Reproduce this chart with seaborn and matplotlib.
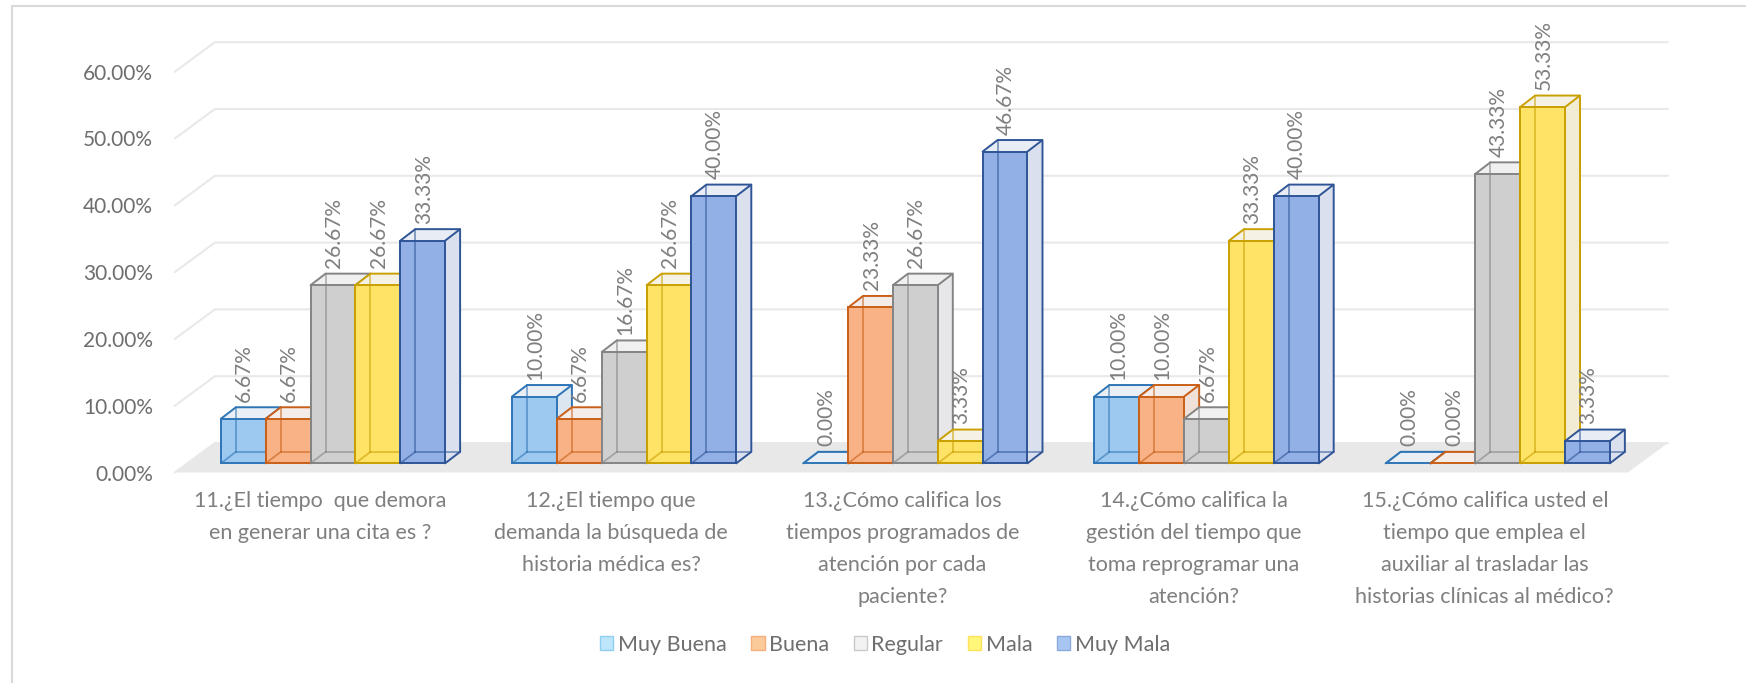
import numpy as np
import pandas as pd
import matplotlib
matplotlib.use("Agg")
import matplotlib.pyplot as plt
from matplotlib.patches import Polygon, Patch
from matplotlib.lines import Line2D
from matplotlib.transforms import ScaledTranslation
import seaborn as sns

# ---- data -------------------------------------------------------------
preguntas = [
    "11.¿El tiempo  que demora\nen generar una cita es ?",
    "12.¿El tiempo que\ndemanda la búsqueda de\nhistoria médica es?",
    "13.¿Cómo califica los\ntiempos programados de\natención por cada\npaciente?",
    "14.¿Cómo califica la\ngestión del tiempo que\ntoma reprogramar una\natención?",
    "15.¿Cómo califica usted el\ntiempo que emplea el\nauxiliar al trasladar las\nhistorias clínicas al médico?",
]
niveles = ["Muy Buena", "Buena", "Regular", "Mala", "Muy Mala"]
muy_buena = [6.67, 10.00, 0.00, 10.00, 0.00]
buena = [6.67, 6.67, 23.33, 10.00, 0.00]
regular = [26.67, 16.67, 26.67, 6.67, 43.33]
mala = [26.67, 26.67, 3.33, 33.33, 53.33]
muy_mala = [33.33, 40.00, 46.67, 40.00, 3.33]
yticks = [0, 10, 20, 30, 40, 50, 60]
ytick_labels = [f"{v:.2f}%" for v in yticks]

valores = dict(zip(niveles, [muy_buena, buena, regular, mala, muy_mala]))
df = pd.DataFrame(
    [(p, n, v) for n in niveles for p, v in zip(preguntas, valores[n])],
    columns=["pregunta", "nivel", "porcentaje"],
)

# ---- colours ----------------------------------------------------------
frente = {"Muy Buena": "#9DC8EF", "Buena": "#F8B285", "Regular": "#CFCFCF",
          "Mala": "#FFE366", "Muy Mala": "#92B0E5"}
borde = {"Muy Buena": "#2E75B6", "Buena": "#C95F17", "Regular": "#848484",
         "Mala": "#C9A000", "Muy Mala": "#2F5597"}
ley_relleno = {"Muy Buena": "#BDE6FB", "Buena": "#FBCB9C", "Regular": "#F2F2F2",
               "Mala": "#FFF67A", "Muy Mala": "#A9C5F1"}
ley_borde = {"Muy Buena": "#8FD0F2", "Buena": "#F5B07D", "Regular": "#CACACA",
             "Mala": "#FFE15E", "Muy Mala": "#8AA9DD"}
TXT = "#7F7F7F"
TICK_TXT = "#6E6E6E"
GRID = "#E9E9E9"
FLOOR = "#E8E8E8"

# ---- 3-D look (pixel offsets) ----------------------------------------
BAR_DX, BAR_DY = 15, 11.5        # depth of each box
FLOOR_DROP = 9.2                 # floor front edge below the bar base
WALL_DX, WALL_DY = 40, 29.5      # floor depth / back wall offset
FLOOR_LEFT, FLOOR_RIGHT = -0.543, 4.447
LW = 1.4


def mix(c, base, t):
    a = np.array(matplotlib.colors.to_rgb(c))
    b = np.array(matplotlib.colors.to_rgb(base))
    return tuple(t * a + (1 - t) * b)


sns.set_style("white")
plt.rcParams["font.family"] = ["Lato", "DejaVu Sans"]

fig = plt.figure(figsize=(17.46, 6.83), dpi=100)
ax = fig.add_axes([0.09399, 0.28741, 0.86724, 0.67980])

sns.barplot(data=df, x="pregunta", y="porcentaje", hue="nivel",
            order=preguntas, hue_order=niveles, palette=frente,
            width=0.77, saturation=1, errorbar=None, legend=False,
            linewidth=LW, ax=ax)

ax.set_xlim(-0.58, 4.62)
ax.set_ylim(-3.5, 66)
ax.grid(False)
for s in ax.spines.values():
    s.set_visible(False)
ax.set_xlabel("")
ax.set_ylabel("")


def shift(x, y, dx, dy):
    X, Y = ax.transData.transform((x, y))
    return tuple(ax.transData.inverted().transform((X + dx, Y + dy)))


# back wall grid lines with their diagonal run-in from the floor front
for v in yticks:
    p0 = shift(FLOOR_LEFT, v, 0, -FLOOR_DROP)
    p1 = shift(FLOOR_LEFT, v, WALL_DX, WALL_DY - FLOOR_DROP)
    p2 = shift(FLOOR_RIGHT, v, WALL_DX, WALL_DY - FLOOR_DROP)
    ax.add_line(Line2D([p0[0], p1[0], p2[0]], [p0[1], p1[1], p2[1]],
                       color=GRID, lw=1.5, zorder=0.5, solid_joinstyle="miter"))

# floor
floor = [shift(FLOOR_LEFT, 0, 0, -FLOOR_DROP), shift(FLOOR_RIGHT, 0, 0, -FLOOR_DROP),
         shift(FLOOR_RIGHT, 0, WALL_DX, WALL_DY - FLOOR_DROP),
         shift(FLOOR_LEFT, 0, WALL_DX, WALL_DY - FLOOR_DROP)]
ax.add_patch(Polygon(floor, closed=True, facecolor=FLOOR, edgecolor="none", zorder=0.8))

# boxes: turn each seaborn bar into a see-through cuboid
barras = []
for nivel, cont in zip(niveles, ax.containers):
    for bar in cont:
        barras.append((bar.get_x(), nivel, bar))
barras.sort(key=lambda t: t[0])

for k, (_, nivel, bar) in enumerate(barras):
    z = 2 + k * 0.1
    x0, w, h = bar.get_x(), bar.get_width(), bar.get_height()
    ec = borde[nivel]
    fbl, fbr, ftl, ftr = (x0, 0), (x0 + w, 0), (x0, h), (x0 + w, h)
    bbl, bbr, btl, btr = [shift(*p, BAR_DX, BAR_DY) for p in (fbl, fbr, ftl, ftr)]

    ax.add_patch(Polygon([fbr, bbr, btr, ftr], closed=True,
                         facecolor=mix(frente[nivel], "#EEEEF0", 0.22),
                         edgecolor="none", zorder=z))
    ax.add_patch(Polygon([ftl, ftr, btr, btl], closed=True,
                         facecolor=mix(frente[nivel], "#F4F4F6", 0.12),
                         edgecolor="none", zorder=z))
    bar.set_facecolor(frente[nivel])
    bar.set_edgecolor(ec)
    bar.set_linewidth(LW)
    bar.set_zorder(z + 0.02)

    # edges seen through the front face
    for a, b in [(bbl, btl), (bbl, bbr), (fbl, bbl)]:
        ax.add_line(Line2D([a[0], b[0]], [a[1], b[1]], color=ec, lw=LW * 0.9,
                           alpha=0.6, zorder=z + 0.03))
    # outer edges
    for seg in [(ftl, btl, btr, ftr), (btr, bbr, fbr)]:
        ax.add_line(Line2D([p[0] for p in seg], [p[1] for p in seg], color=ec,
                           lw=LW, zorder=z + 0.04, solid_joinstyle="miter"))

    ax.annotate(f"{h:.2f}%", xy=(x0 + w / 2, h), xytext=(1, 17),
                textcoords="offset pixels", rotation=90, ha="center",
                va="bottom", color=TXT, fontsize=15, zorder=20)

# axes text
ax.set_yticks(yticks)
ax.set_yticklabels(ytick_labels)
ax.tick_params(axis="y", length=0, pad=8, labelsize=15, labelcolor=TICK_TXT)
ax.set_xticks(range(len(preguntas)))
ax.set_xticklabels(preguntas, linespacing=1.76)
ax.tick_params(axis="x", length=0, pad=3, labelsize=15.5, labelcolor=TXT)
for lab in ax.get_yticklabels():
    lab.set_transform(lab.get_transform()
                      + ScaledTranslation(0, -FLOOR_DROP / 100, fig.dpi_scale_trans))
for lab in ax.get_xticklabels():
    lab.set_transform(lab.get_transform()
                      + ScaledTranslation(-13 / 100, 0, fig.dpi_scale_trans))

# legend
handles = [Patch(facecolor=ley_relleno[n], edgecolor=ley_borde[n], linewidth=1.0)
           for n in niveles]
fig.legend(handles, niveles, loc="center", bbox_to_anchor=(885 / 1746, 1 - 645 / 683),
           ncol=5, frameon=False, fontsize=15.5, handlelength=0.62, handleheight=0.62,
           handletextpad=0.2, columnspacing=1.15, labelcolor=TICK_TXT)

# chart area frame (left and top edges)
fig.add_artist(Line2D([12 / 1746, 12 / 1746], [0, 1 - 6 / 683], color="#D9D9D9",
                      lw=1.5, transform=fig.transFigure))
fig.add_artist(Line2D([12 / 1746, 1], [1 - 6 / 683, 1 - 6 / 683], color="#D9D9D9",
                      lw=1.5, transform=fig.transFigure))

fig.savefig("out.png", dpi=100)
